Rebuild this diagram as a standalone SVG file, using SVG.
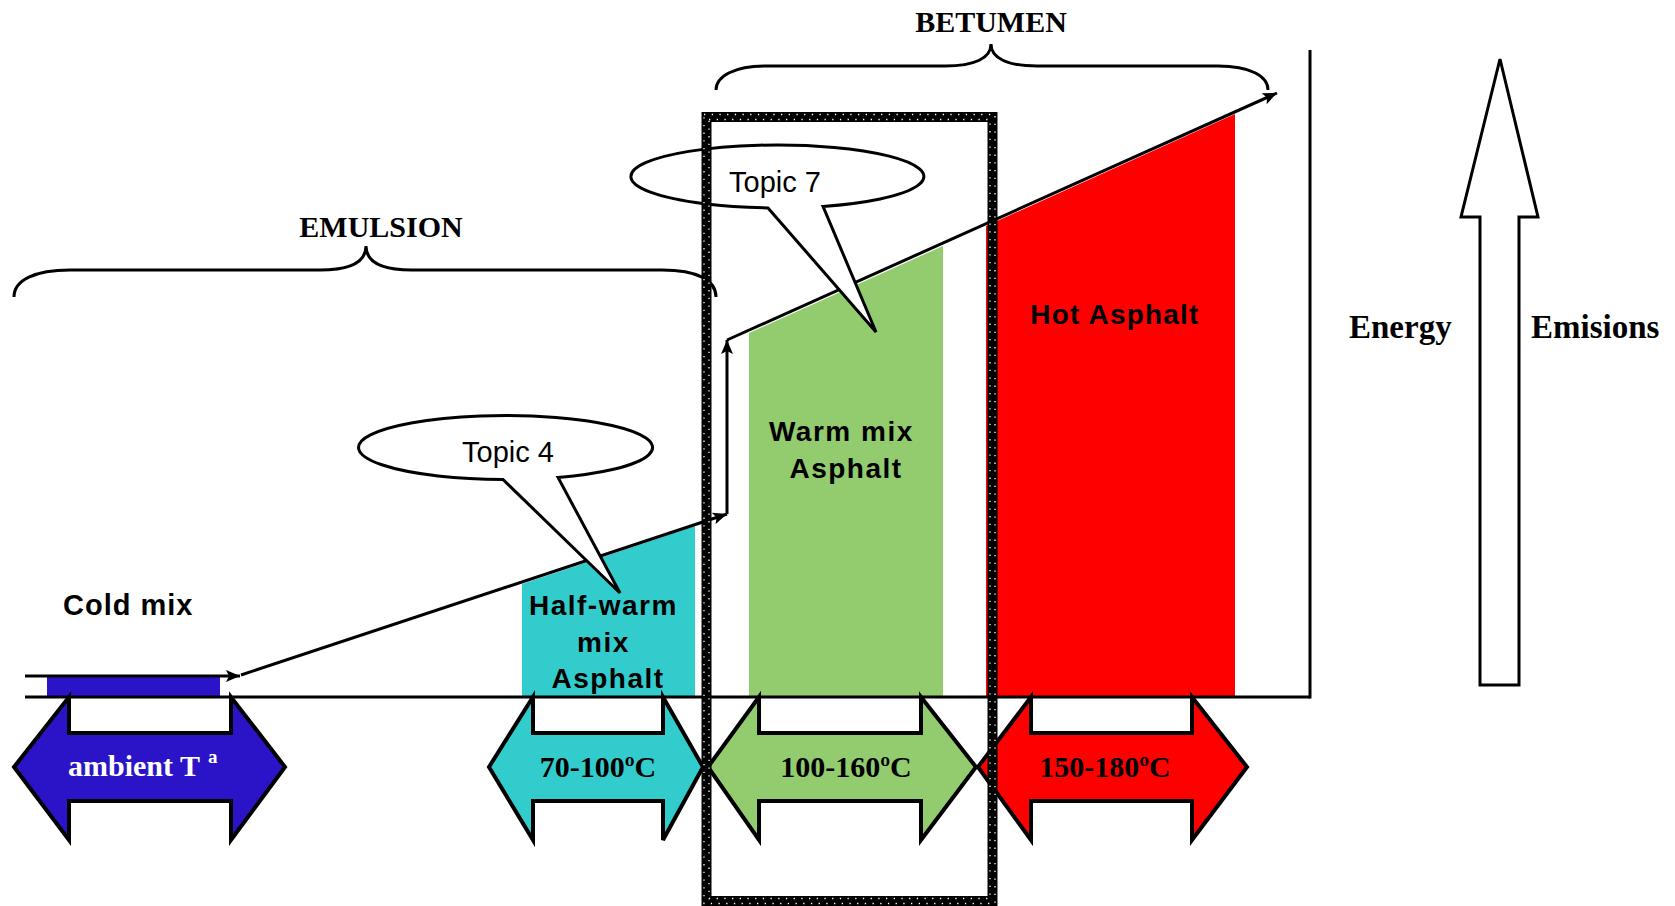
<svg xmlns="http://www.w3.org/2000/svg" width="1675" height="906" viewBox="0 0 1675 906">
<defs>
<marker id="ah" markerUnits="userSpaceOnUse" markerWidth="16" markerHeight="12" refX="14" refY="6" orient="auto">
<path d="M0,0 L14,6 L0,12 L3,6 Z" fill="#000"/>
</marker>
<style>
.ln{fill:none;stroke:#000;stroke-width:3}
.arr{stroke:#000;stroke-width:4;stroke-linejoin:miter}
.serif{font-family:"Liberation Serif","Times New Roman",serif;font-weight:bold}
.sans{font-family:"Liberation Sans",Arial,sans-serif;font-weight:bold}
.topic{font-family:"Liberation Sans",Arial,sans-serif;font-size:29px}
.bubble{fill:#fff;stroke:#000;stroke-width:3;stroke-linejoin:miter}
.dots{fill:none;stroke:#fff;stroke-width:1.3;stroke-dasharray:1.3 6.4}
</style>
</defs>
<rect width="1675" height="906" fill="#fff"/>

<g id="regions">
<polygon points="522,584 695,526 695,697 522,697" fill="#33CCCC"/>
<polygon points="749,333 943,246 943,697 749,697" fill="#92CC6E"/>
<polygon points="986,226 1235,114 1235,697 986,697" fill="#FF0000"/>
<rect x="47" y="676" width="173" height="21" fill="#2B14C8"/>
</g>

<g id="connectors">
<line class="ln" x1="25" y1="697" x2="1310" y2="697"/>
<line class="ln" x1="1310" y1="50" x2="1310" y2="698.5"/>
<line class="ln" x1="25" y1="676" x2="240" y2="676" marker-end="url(#ah)"/>
<line class="ln" x1="241" y1="675" x2="727" y2="514" marker-end="url(#ah)"/>
<line class="ln" x1="727" y1="514" x2="727" y2="340" marker-end="url(#ah)"/>
<line class="ln" x1="727" y1="340" x2="1277" y2="93" marker-end="url(#ah)"/>
</g>

<g id="cold-mix">
<text class="sans" x="63" y="615" font-size="29" letter-spacing="1">Cold mix</text>
<polygon class="arr" fill="#2B14C8" points="14,767 69,697 69,733 231,733 231,697 285,767 231,840 231,801 69,801 69,840"/>
<text class="serif" x="68" y="776" font-size="30" fill="#fff">ambient T<tspan font-size="19" dx="8" dy="-13">a</tspan></text>
</g>

<g id="half-warm">
<text class="sans" font-size="28" text-anchor="middle" letter-spacing="1.5">
<tspan x="608" y="615">Half-warm</tspan>
<tspan x="608" y="652">mix</tspan>
<tspan x="608" y="688">Asphalt</tspan>
</text>
<polygon class="arr" fill="#33CCCC" points="489,767 533,697 533,733 663,733 663,697 703,767 663,840 663,801 533,801 533,840"/>
<text class="serif" x="598" y="777" font-size="30" text-anchor="middle">70-100ºC</text>
</g>

<g id="warm-mix">
<text class="sans" font-size="28" text-anchor="middle" letter-spacing="1.5">
<tspan x="846" y="441">Warm mix</tspan>
<tspan x="846" y="478">Asphalt</tspan>
</text>
<polygon class="arr" fill="#92CC6E" points="708,767 759,697 759,733 921,733 921,697 976,767 921,840 921,801 759,801 759,840"/>
<text class="serif" x="846" y="777" font-size="30" text-anchor="middle">100-160ºC</text>
</g>

<g id="hot-asphalt">
<text class="sans" x="1115" y="324" font-size="28" text-anchor="middle" letter-spacing="1.2">Hot Asphalt</text>
<polygon class="arr" fill="#FF0000" points="978,767 1031,697 1031,733 1192,733 1192,697 1247,767 1192,840 1192,801 1031,801 1031,840"/>
<text class="serif" x="1105" y="777" font-size="30" text-anchor="middle">150-180ºC</text>
</g>

<g id="topic4">
<path class="bubble" d="M558,477.4 A147,32 0 1 0 503,479.5 L620,593 Z"/>
<text class="topic" x="462" y="462">Topic 4</text>
</g>

<g id="topic7">
<path class="bubble" d="M823,206.4 A146.5,31.5 0 1 0 768,207.9 L876,332 Z"/>
<text class="topic" x="729" y="192">Topic 7</text>
</g>

<g id="emulsion">
<path class="ln" d="M14,297 C14,280 35,270 70,270 L320,270 C350,270 366,262 366,246 C366,262 382,270 412,270 L662,270 C697,270 716,280 716,297"/>
<text class="serif" x="381" y="237" font-size="30" text-anchor="middle">EMULSION</text>
</g>

<g id="betumen">
<path class="ln" d="M716,90 C716,76 735,66 765,66 L945,66 C975,66 991,58 991,44 C991,58 1007,66 1037,66 L1218,66 C1250,66 1268,76 1268,90"/>
<text class="serif" x="991" y="32" font-size="30" text-anchor="middle">BETUMEN</text>
</g>

<g id="energy-axis">
<polygon points="1500,59 1538,217 1519,217 1519,685 1480,685 1480,217 1461,217" fill="#fff" stroke="#000" stroke-width="3"/>
<text class="serif" x="1349" y="338" font-size="33">Energy</text>
<text class="serif" x="1531" y="338" font-size="33">Emisions</text>
</g>

<g id="highlight-box">
<rect x="706.5" y="117" width="286" height="784" fill="none" stroke="#000" stroke-width="10"/>
<rect class="dots" x="704" y="114.5" width="291" height="789"/>
<rect class="dots" x="709" y="119.5" width="281" height="779"/>
</g>
</svg>
